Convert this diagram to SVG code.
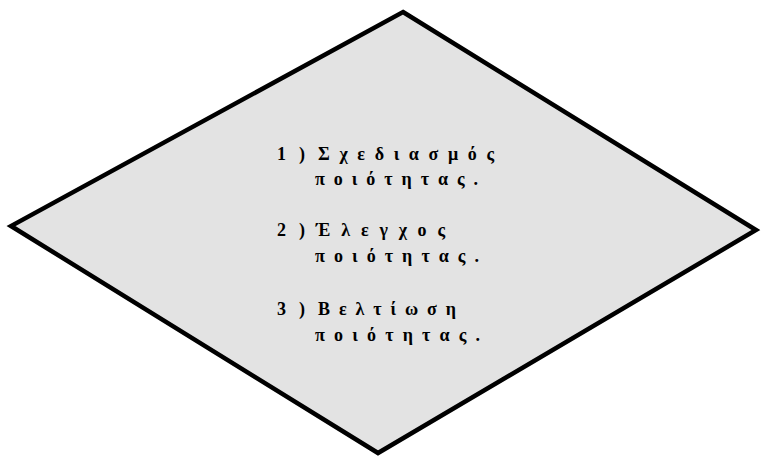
<svg xmlns="http://www.w3.org/2000/svg" width="764" height="457" viewBox="0 0 764 457">
<style>
.shape{fill:#e3e3e3;stroke:#000;stroke-width:4.5;stroke-linejoin:miter}
.t{font-family:"Liberation Serif","Times New Roman",serif;font-weight:bold;font-size:18px;fill:#000}
</style>
<rect width="764" height="457" fill="#fff"/>
<g id="diamond">
<polygon class="shape" points="403,12 756,230 378,453 11,226"/>
<text class="t" x="277" y="160" textLength="28" lengthAdjust="spacing">1)</text>
<text class="t" x="318" y="160" textLength="176" lengthAdjust="spacing">Σχεδιασμός</text>
<text class="t" x="315" y="185" textLength="163" lengthAdjust="spacing">ποιότητας.</text>
<text class="t" x="277" y="236" textLength="28" lengthAdjust="spacing">2)</text>
<text class="t" x="316" y="236" textLength="129" lengthAdjust="spacing">Έλεγχος</text>
<text class="t" x="315" y="262" textLength="164" lengthAdjust="spacing">ποιότητας.</text>
<text class="t" x="277" y="315" textLength="28" lengthAdjust="spacing">3)</text>
<text class="t" x="318" y="315" textLength="138" lengthAdjust="spacing">Βελτίωση</text>
<text class="t" x="315" y="341" textLength="165" lengthAdjust="spacing">ποιότητας.</text>
</g>
</svg>
